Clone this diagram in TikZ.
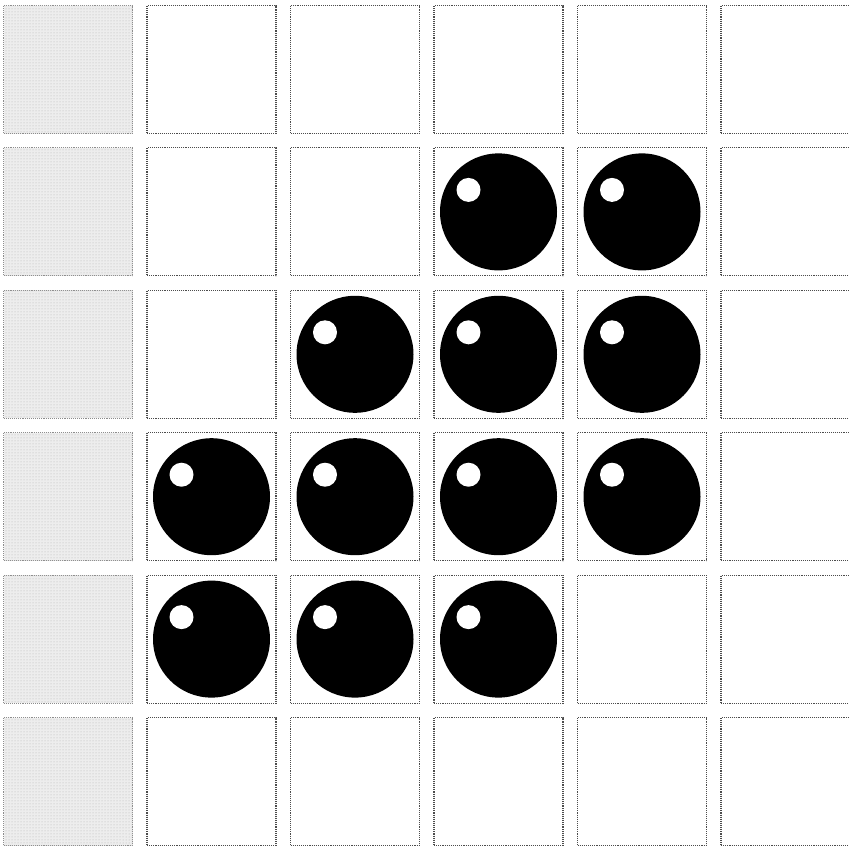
\documentclass[tikz,border=0pt]{standalone}
\usetikzlibrary{patterns}
\begin{document}
\begin{tikzpicture}[x=1pt,y=-1pt,
  cellbox/.style={draw=black!70, densely dotted, line width=1.1pt, minimum width=129pt, minimum height=128pt, inner sep=0pt, fill=white},
  graycell/.style={cellbox, draw=black!45, fill=black!7, postaction={pattern=dots, pattern color=black!30}},
  ball/.style={circle, fill=black, minimum size=117pt, inner sep=0pt},
  shine/.style={circle, fill=white, minimum size=24pt, inner sep=0pt}]
\useasboundingbox (0,0) rectangle (849,846);
\foreach \r in {0,...,5}{
  \node[graycell] (c\r0) at (68, {69.5+142.4*\r}) {};
  \foreach \c in {1,...,5}{
    \node[cellbox] (c\r\c) at ({68+143.5*\c}, {69.5+142.4*\r}) {};
  }
}
\foreach \r/\c in {1/3,1/4,2/2,2/3,2/4,3/1,3/2,3/3,3/4,4/1,4/2,4/3}{
  \node[ball] (b\r\c) at (c\r\c) {};
  \node[shine] (s\r\c) at ([xshift=-30pt,yshift=22pt]b\r\c.center) {};
}
\end{tikzpicture}
\end{document}
